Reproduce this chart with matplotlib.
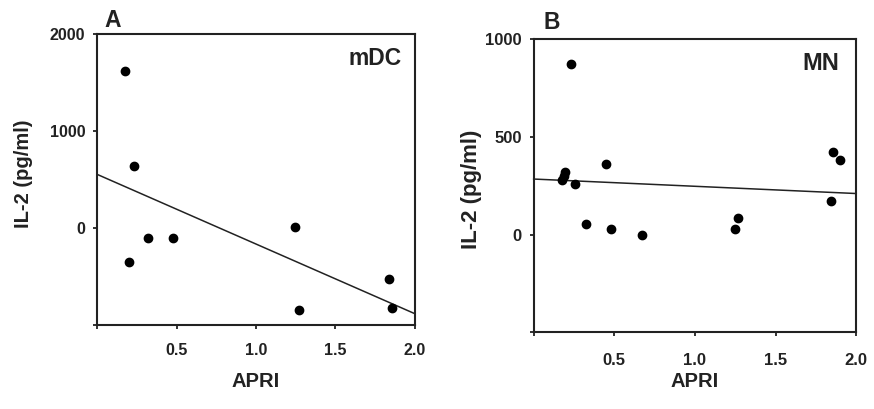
import numpy as np
import matplotlib
matplotlib.use("Agg")
import matplotlib.pyplot as plt

plt.rcParams['font.family'] = ['Liberation Sans', 'DejaVu Sans']
plt.rcParams['font.weight'] = 'bold'

# panel A - mDC
apri_a = [0.178, 0.23, 0.32, 0.476, 0.20, 1.243, 1.268, 1.836, 1.857]
il2_a = [1619, 642, -103, -103, -350, 10, -849, -529, -825]

# panel B - MN
apri_b = [0.233, 0.175, 0.185, 0.195, 0.256, 0.446, 0.324, 0.477, 0.669,
          1.246, 1.269, 1.841, 1.855, 1.897]
il2_b = [874, 280, 300, 320, 261, 362, 53, 27, -2, 29, 85, 171, 423, 381]

xticks = [0, 0.5, 1.0, 1.5, 2.0]
xticklabels = ['', '0.5', '1.0', '1.5', '2.0']
yticks_a = [-1000, 0, 1000, 2000]
yticklabels_a = ['', '0', '1000', '2000']
yticks_b = [-500, 0, 500, 1000]
yticklabels_b = ['', '0', '500', '1000']

fig = plt.figure(figsize=(8.74, 4.09), dpi=100)
ax1 = fig.add_axes([0.111, 0.2054, 0.3638, 0.7115])
ax2 = fig.add_axes([0.6106, 0.1875, 0.3691, 0.7171])


def panel(ax, x, y, ylim, yticks, yticklabels, letter, name, opts):
    ax.scatter(x, y, s=36, color='black', zorder=3)
    # least squares line drawn across the full x range
    slope, icpt = np.polyfit(x, y, 1)
    fx = np.array([0, 2.0])
    ax.plot(fx, icpt + slope * fx, color='#222222', lw=1.1, clip_on=False)
    ax.set_xlim(0, 2.0)
    ax.set_ylim(*ylim)
    ax.set_xticks(xticks)
    ax.set_xticklabels(xticklabels)
    ax.set_yticks(yticks)
    ax.set_yticklabels(yticklabels)
    ax.tick_params(direction='out', length=3, width=1.3,
                   labelsize=opts['tick'], colors='#222222')
    ax.tick_params(axis='x', pad=opts['xpad'])
    ax.tick_params(axis='y', pad=5.5)
    for s in ax.spines.values():
        s.set_linewidth(1.5)
        s.set_color('#222222')
    ax.set_xlabel('APRI', fontsize=14.5, fontweight='bold', color='#222222')
    ax.xaxis.set_label_coords(0.5, opts['xlab'])
    ax.set_ylabel('IL-2 (pg/ml)', fontsize=opts['ylabsize'], fontweight='bold',
                  color='#222222')
    ax.yaxis.set_label_coords(opts['ylab'][0], opts['ylab'][1])
    ax.text(opts['letter'][0], opts['letter'][1], letter, transform=ax.transAxes,
            fontsize=16.5, fontweight='bold', ha='left', va='baseline',
            color='#222222')
    ax.text(opts['name'][0], opts['name'][1], name, transform=ax.transAxes,
            fontsize=opts['namesize'], fontweight='bold', ha='right',
            va='center', color='#222222')


panel(ax1, apri_a, il2_a, (-1000, 2000), yticks_a, yticklabels_a, 'A', 'mDC',
      dict(tick=11.5, xpad=10, xlab=-0.163, ylabsize=14.5, ylab=(-0.201, 0.519),
           letter=(0.022, 1.024), name=(0.959, 0.916), namesize=16.5))
panel(ax2, apri_b, il2_b, (-500, 1000), yticks_b, yticklabels_b, 'B', 'MN',
      dict(tick=12, xpad=12, xlab=-0.135, ylabsize=16, ylab=(-0.160, 0.489),
           letter=(0.029, 1.034), name=(0.946, 0.916), namesize=17))

fig.savefig('out.png', dpi=100)
